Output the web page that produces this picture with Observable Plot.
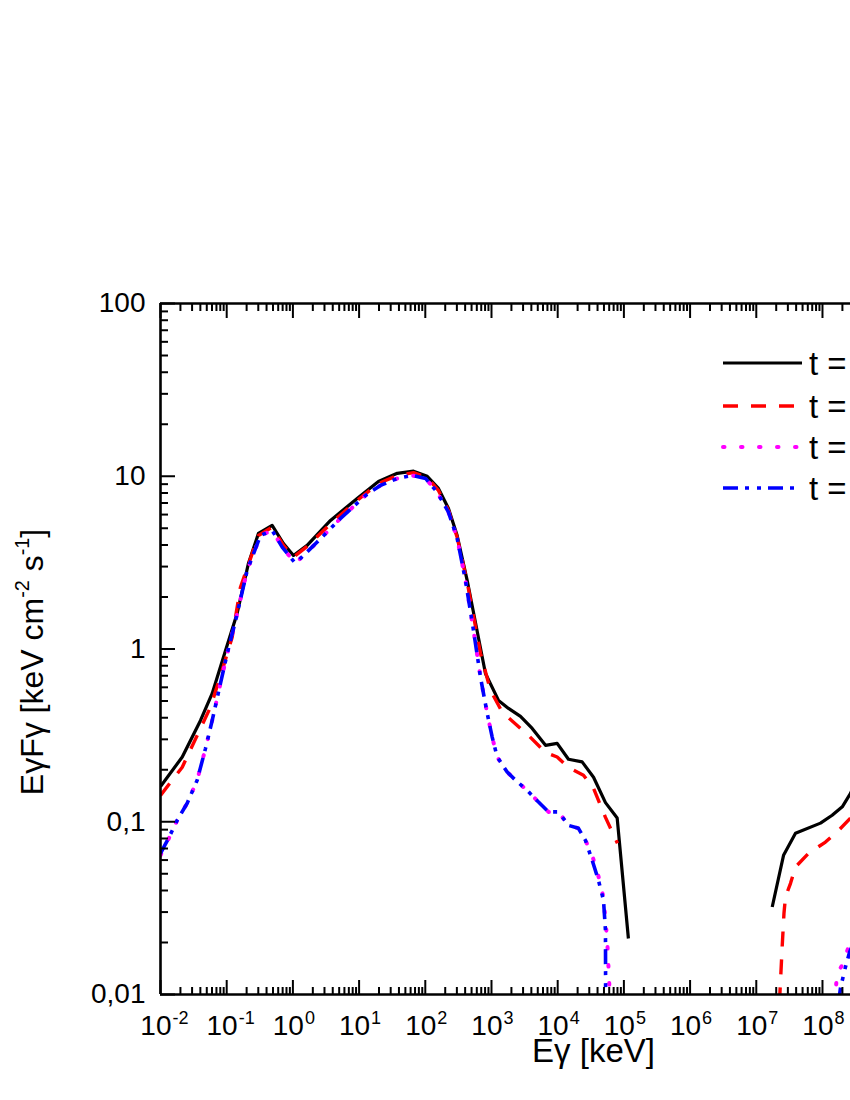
<!DOCTYPE html>
<html><head><meta charset="utf-8">
<script src="https://cdn.jsdelivr.net/npm/d3@7"></script>
<script src="https://cdn.jsdelivr.net/npm/@observablehq/plot@0.6"></script>
<style>body{margin:0;background:#fff;} #chart svg{display:block}</style>
</head><body><div id="chart"></div>
<script>
// ---- data (energy in keV, E·F in keV cm^-2 s^-1) ----
const blackLowE = [0.01, 0.0213, 0.0402, 0.0604, 0.096, 0.144, 0.213, 0.302, 0.486, 0.72, 1.02, 1.64, 3.70, 9.35, 19.6, 37.7, 66.4, 107, 158, 224, 303, 430, 811, 1276, 1808, 2742, 4120, 6550, 9820, 14550, 23400, 34800, 52700, 79200, 117000];
const blackLowF = [0.160, 0.237, 0.386, 0.553, 0.98, 1.61, 3.13, 4.67, 5.19, 4.08, 3.48, 3.98, 5.55, 7.44, 9.33, 10.4, 10.7, 10.0, 8.50, 6.51, 4.54, 2.49, 0.722, 0.504, 0.453, 0.407, 0.347, 0.277, 0.284, 0.230, 0.222, 0.181, 0.129, 0.105, 0.0211];
const blackHighE = [1.74e7, 2.58e7, 3.91e7, 9.33e7, 1.40e8, 1.99e8, 2.65e8, 3.5e8];
const blackHighF = [0.0321, 0.0639, 0.0857, 0.0982, 0.109, 0.122, 0.146, 0.186];

const redLowE = [0.01, 0.0213, 0.0358, 0.0569, 0.0855, 0.121, 0.161, 0.302, 0.486, 0.72, 1.02, 1.64, 3.93, 9.35, 19.6, 37.7, 66.4, 107, 158, 224, 303, 430, 682, 966, 1452, 3620, 6550, 9820, 14550, 24500, 34800, 52700, 80000];
const redLowF = [0.142, 0.207, 0.316, 0.461, 0.752, 1.17, 2.27, 4.54, 5.07, 3.98, 3.40, 3.93, 5.42, 7.24, 9.08, 10.1, 10.5, 9.84, 8.28, 6.34, 4.43, 2.43, 0.944, 0.576, 0.431, 0.316, 0.252, 0.237, 0.206, 0.186, 0.156, 0.106, 0.075];
const redHighE = [2.24e7, 2.46e7, 2.62e7, 2.76e7, 3.29e7, 3.91e7, 6.15e7, 1.11e8, 1.75e8, 2.65e8, 3.6e8];
const redHighF = [0.009, 0.0188, 0.0295, 0.0367, 0.0440, 0.0547, 0.0656, 0.0763, 0.0891, 0.105, 0.124];

const magentaLowE = [0.01, 0.0126, 0.0179, 0.0253, 0.0358, 0.0479, 0.0604, 0.0752, 0.102, 0.136, 0.204, 0.324, 0.486, 0.689, 1.09, 2.33, 5.24, 12.5, 21.0, 37.7, 63.4, 101, 151, 224, 303, 405, 535, 682, 861, 1025, 1219, 1726, 2306, 3460, 5130, 7260, 10300, 14550, 20600, 26300, 33200, 41300, 49200, 56000, 60500, 61000];
const magentaLowF = [0.064, 0.0763, 0.102, 0.128, 0.174, 0.266, 0.386, 0.563, 0.944, 1.46, 2.85, 4.54, 4.86, 3.89, 3.13, 4.16, 5.70, 7.74, 8.85, 9.71, 10.1, 9.71, 8.09, 6.20, 4.37, 2.49, 1.28, 0.687, 0.424, 0.309, 0.237, 0.194, 0.174, 0.152, 0.130, 0.114, 0.114, 0.0953, 0.0916, 0.078, 0.0639, 0.0483, 0.0365, 0.0206, 0.0110, 0.009];
const magentaHighE = [1.52e8, 1.67e8, 1.99e8, 2.47e8, 3.27e8];
const magentaHighF = [0.009, 0.0133, 0.0148, 0.0188, 0.025];

const blueLowE = [0.01, 0.0132, 0.0179, 0.0253, 0.0358, 0.0479, 0.0604, 0.0752, 0.102, 0.136, 0.204, 0.324, 0.486, 0.689, 1.09, 2.33, 5.24, 12.5, 21.0, 37.7, 63.4, 101, 151, 224, 303, 405, 535, 682, 861, 1025, 1219, 1726, 2306, 3460, 5130, 7260, 10300, 14550, 20600, 26300, 33200, 41300, 49200, 52700, 53000];
const blueLowF = [0.0656, 0.0802, 0.102, 0.128, 0.174, 0.266, 0.386, 0.563, 0.944, 1.46, 2.85, 4.54, 4.86, 3.89, 3.13, 4.16, 5.70, 7.74, 8.85, 9.71, 10.1, 9.71, 8.09, 6.20, 4.37, 2.49, 1.28, 0.687, 0.424, 0.309, 0.237, 0.194, 0.174, 0.152, 0.130, 0.114, 0.114, 0.0953, 0.0916, 0.078, 0.0598, 0.0458, 0.0351, 0.0235, 0.009];
const blueHighE = [1.75e8, 1.87e8, 2.22e8, 2.56e8, 3.27e8];
const blueHighF = [0.009, 0.0109, 0.0144, 0.0175, 0.022];

const legendLabels = ["t =", "t =", "t =", "t ="];
const xTickExponents = [-2, -1, 0, 1, 2, 3, 4, 5, 6, 7, 8];
const yTickValues = [0.01, 0.1, 1, 10, 100];
const yTickLabels = ["0,01", "0,1", "1", "10", "100"];
const xTitle = "Eγ [keV]";

// ---- build tables ----
function rows(E, F, seg) { return E.map((e, i) => ({E: e, F: F[i], seg})); }
const blackRows = [...rows(blackLowE, blackLowF, "a"), ...rows(blackHighE, blackHighF, "b")];
const redRows = [...rows(redLowE, redLowF, "a"), ...rows(redHighE, redHighF, "b")];
const magentaRows = [...rows(magentaLowE, magentaLowF, "a"), ...rows(magentaHighE, magentaHighF, "b")];
const blueRows = [...rows(blueLowE, blueLowF, "a"), ...rows(blueHighE, blueHighF, "b")];

const styles = [
  {stroke: "#000000", strokeWidth: 3.2, strokeDasharray: null, strokeLinecap: "butt"},
  {stroke: "#ff0000", strokeWidth: 3.4, strokeDasharray: "15 13", strokeLinecap: "butt"},
  {stroke: "#ff00ff", strokeWidth: 4, strokeDasharray: "1.5 16.5", strokeLinecap: "round"},
  {stroke: "#0000ff", strokeWidth: 3.6, strokeDasharray: "15 7 4 8 4 7", strokeLinecap: "butt"}
];

// ---- ticks ----
const xMajor = xTickExponents.map(e => Math.pow(10, e));
const xMinor = [];
for (const e of xTickExponents) for (let k = 2; k <= 9; k++) xMinor.push(k * Math.pow(10, e));
const yMajor = yTickValues;
const yMinor = [];
for (const v of [0.01, 0.1, 1, 10]) for (let k = 2; k <= 9; k++) yMinor.push(k * v);

const W = 850, H = 1100, mT = 303, mB = 106, mL = 160, mR = 0;
const fw = W - mL - mR, fh = H - mT - mB;
const font = "'Liberation Sans', Arial, Helvetica, sans-serif";

const lineMark = (data, s) => Plot.line(data, {x: "E", y: "F", z: "seg", stroke: s.stroke, strokeWidth: s.strokeWidth,
  strokeDasharray: s.strokeDasharray ?? undefined, strokeLinecap: s.strokeLinecap, strokeLinejoin: "round", clip: true});

const chart = Plot.plot({
  width: W, height: H, marginTop: mT, marginBottom: mB, marginLeft: mL, marginRight: mR,
  style: {fontFamily: font, background: "white", color: "black", overflow: "hidden"},
  x: {type: "log", domain: [1e-2, 2.65e8], axis: null},
  y: {type: "log", domain: [0.01, 100], axis: null},
  marks: [
    lineMark(blackRows, styles[0]),
    lineMark(redRows, styles[1]),
    lineMark(magentaRows, styles[2]),
    lineMark(blueRows, styles[3]),
    // inward ticks bottom
    Plot.ruleX(xMajor, {insetTop: fh - 14, strokeWidth: 2, stroke: "black"}),
    Plot.ruleX(xMinor, {insetTop: fh - 7, strokeWidth: 2, stroke: "black"}),
    // inward ticks top
    Plot.ruleX(xMajor, {insetBottom: fh - 15, strokeWidth: 2, stroke: "black"}),
    Plot.ruleX(xMinor, {insetBottom: fh - 8, strokeWidth: 2, stroke: "black"}),
    // inward ticks left
    Plot.ruleY(yMajor, {insetRight: fw - 15, strokeWidth: 2, stroke: "black"}),
    Plot.ruleY(yMinor, {insetRight: fw - 8, strokeWidth: 2, stroke: "black"}),
    // frame lines
    Plot.ruleX([1e-2], {strokeWidth: 2.6, stroke: "black"}),
    Plot.ruleY([0.01, 100], {strokeWidth: 2.6, stroke: "black"}),
    // y tick labels
    Plot.text(yTickValues, {y: d => d, frameAnchor: "left", textAnchor: "end", dx: -15, text: (d, i) => yTickLabels[i], fontSize: 28, fill: "black"}),
    // x tick labels 10^n
    Plot.text(xMajor, {x: d => d, frameAnchor: "bottom", lineAnchor: "middle", textAnchor: "end", dx: 11, dy: 32, text: () => "10", fontSize: 28, fill: "black"}),
    Plot.text(xMajor, {x: d => d, frameAnchor: "bottom", lineAnchor: "middle", textAnchor: "start", dx: 12, dy: 24, text: (d, i) => String(xTickExponents[i]), fontSize: 18, fill: "black"}),
    // x title
    Plot.text([xTitle], {frameAnchor: "bottom", lineAnchor: "middle", dx: 88, dy: 57, fontSize: 33, fill: "black"})
  ]
});

const svg = d3.select(chart);
// y title with superscripts
const yt = svg.append("text")
  .attr("transform", "translate(35,662) rotate(-90)")
  .attr("text-anchor", "middle").attr("dominant-baseline", "middle")
  .attr("font-family", font).attr("font-size", 32).attr("fill", "black");
yt.append("tspan").text("EγFγ [keV cm");
yt.append("tspan").attr("dy", "-0.55em").attr("font-size", "0.62em").text("-2");
yt.append("tspan").attr("dy", "0.34em").text(" s");
yt.append("tspan").attr("dy", "-0.55em").attr("font-size", "0.62em").text("-1");
yt.append("tspan").attr("dy", "0.34em").text("]");

// legend
const legY = [363, 406, 447, 488];
legendLabels.forEach((lab, i) => {
  const s = styles[i];
  svg.append("line").attr("x1", 723).attr("x2", 802).attr("y1", legY[i]).attr("y2", legY[i])
    .attr("stroke", s.stroke).attr("stroke-width", s.strokeWidth)
    .attr("stroke-dasharray", s.strokeDasharray).attr("stroke-linecap", s.strokeLinecap);
  svg.append("text").attr("x", 809).attr("y", legY[i]).attr("dy", "0.36em")
    .attr("text-anchor", "start")
    .attr("font-family", font).attr("font-size", 33).attr("fill", "black").text(lab);
});

document.getElementById("chart").appendChild(chart);
</script>
</body></html>
